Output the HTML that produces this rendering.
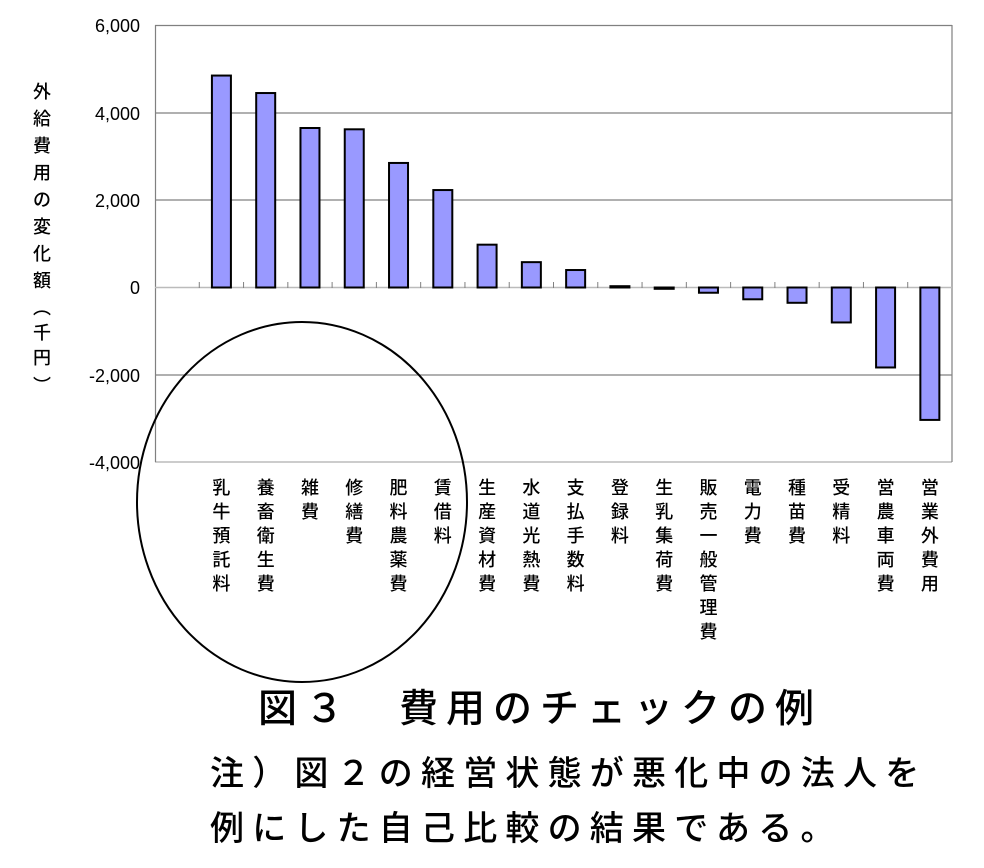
<!DOCTYPE html>
<html><head><meta charset="utf-8">
<style>
html,body{margin:0;padding:0;background:#fff;}
body{width:984px;height:868px;position:relative;overflow:hidden;font-family:"Liberation Sans","Noto Sans CJK JP",sans-serif;}
.t{position:absolute;white-space:nowrap;color:#000;font-family:"Liberation Sans","Noto Sans CJK JP",sans-serif;font-weight:500;}
</style></head><body>
<svg width="984" height="868" style="position:absolute;left:0;top:0" xmlns="http://www.w3.org/2000/svg" font-family="Liberation Sans, Noto Sans CJK JP, sans-serif">
<line x1="155" y1="25.5" x2="952" y2="25.5" stroke="#808080" stroke-width="1.2"/>
<line x1="155" y1="113" x2="952" y2="113" stroke="#808080" stroke-width="1.2"/>
<line x1="155" y1="200" x2="952" y2="200" stroke="#808080" stroke-width="1.2"/>
<line x1="155" y1="375" x2="952" y2="375" stroke="#808080" stroke-width="1.2"/>
<line x1="155" y1="462" x2="952" y2="462" stroke="#bbbbbb" stroke-width="1.5"/>
<line x1="155.5" y1="25" x2="155.5" y2="462" stroke="#808080" stroke-width="1.2"/>
<line x1="952" y1="25" x2="952" y2="462" stroke="#808080" stroke-width="1.2"/>
<line x1="155" y1="287.5" x2="952" y2="287.5" stroke="#bbbbbb" stroke-width="1.5"/>
<g id="ticks" stroke="#808080" stroke-width="1"></g>
<g id="bars"></g>
<g id="labels" font-size="18" font-weight="500" text-anchor="middle"></g>
<g font-size="18" text-anchor="end">
<text x="140" y="32">6,000</text>
<text x="140" y="120">4,000</text>
<text x="140" y="207">2,000</text>
<text x="140" y="294">0</text>
<text x="140" y="382">-2,000</text>
<text x="140" y="469">-4,000</text>
</g>
<g font-size="18" font-weight="500" text-anchor="middle">
<text x="42" y="98">外</text>
<text x="42" y="125">給</text>
<text x="42" y="152">費</text>
<text x="42" y="179">用</text>
<text x="42" y="206">の</text>
<text x="42" y="233">変</text>
<text x="42" y="260">化</text>
<text x="42" y="287">額</text>
<text x="42" y="314">︵</text>
<text x="42" y="339">千</text>
<text x="42" y="364">円</text>
<text x="42" y="392">︶</text>
</g>
<ellipse cx="302" cy="502" rx="165" ry="180" fill="none" stroke="#000" stroke-width="2"/>
</svg>
<div class="t" style="left:258px;top:686px;font-size:39px;letter-spacing:8px;line-height:48px;">図３　費用のチェックの例</div>
<div class="t" style="left:210px;top:753px;font-size:34px;letter-spacing:8.2px;line-height:42px;">注）図２の経営状態が悪化中の法人を</div>
<div class="t" style="left:210px;top:808px;font-size:34px;letter-spacing:8.2px;line-height:42px;">例にした自己比較の結果である。</div>
<script>
var ns="http://www.w3.org/2000/svg";
var vals=[4850,4450,3650,3620,2850,2230,980,580,400,30,-30,-120,-270,-350,-800,-1830,-3030];
var labs=["乳牛預託料","養畜衛生費","雑費","修繕費","肥料農薬費","賃借料","生産資材費","水道光熱費","支払手数料","登録料","生乳集荷費","販売一般管理費","電力費","種苗費","受精料","営農車両費","営業外費用"];
var cw=797/18, z=287.5, s=43.7/1000;
var bars=document.getElementById("bars"),lg=document.getElementById("labels"),tk=document.getElementById("ticks");
for(var i=1;i<18;i++){var x=155+cw*i;var l=document.createElementNS(ns,"line");l.setAttribute("x1",x);l.setAttribute("x2",x);l.setAttribute("y1",282);l.setAttribute("y2",288);tk.appendChild(l);}
vals.forEach(function(v,i){
 var cx=155+cw*(i+1.5);
 var h=Math.abs(v)*s, y=v>0?z-h:z;
 var r=document.createElementNS(ns,"rect");
 r.setAttribute("x",cx-9.5);r.setAttribute("y",y);r.setAttribute("width",19);r.setAttribute("height",Math.max(h,1));
 r.setAttribute("fill","#9999ff");r.setAttribute("stroke","#000");r.setAttribute("stroke-width","2");
 bars.appendChild(r);
 var t=labs[i];
 for(var k=0;k<t.length;k++){var e=document.createElementNS(ns,"text");e.setAttribute("x",cx);e.setAttribute("y",494+24*k);e.textContent=t[k];lg.appendChild(e);}
});
</script>
</body></html>
